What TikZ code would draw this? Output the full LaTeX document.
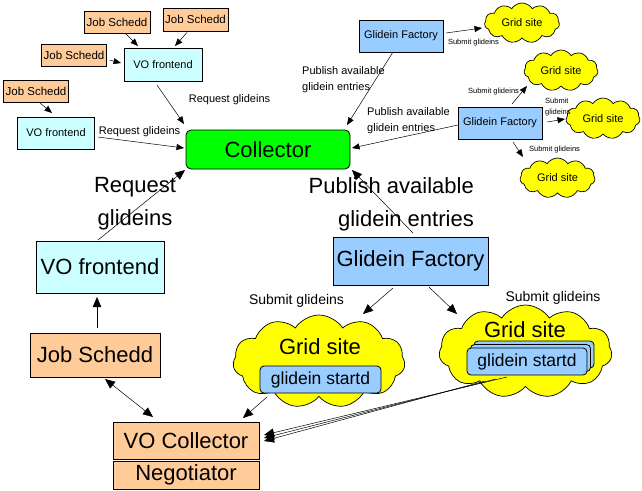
\documentclass[tikz,border=0pt]{standalone}
\usepackage{fontspec}
\setmainfont{Liberation Sans}
\usetikzlibrary{arrows.meta,shapes.symbols}
\definecolor{jsorange}{HTML}{FFCC99}
\definecolor{vocyan}{HTML}{CCFFFF}
\definecolor{colgreen}{HTML}{00FF00}
\definecolor{gfblue}{HTML}{99CCFF}
\definecolor{gsyellow}{HTML}{FFFF00}
\newcommand\fsz[2]{\fontsize{#1}{#2}\selectfont}
\begin{document}
\begin{tikzpicture}[x=1pt,y=-1pt,
  box/.style={draw, line width=0.8pt, inner sep=0pt, outer sep=0pt},
  jsbox/.style={box, fill=jsorange},
  vobox/.style={box, fill=vocyan},
  gfbox/.style={box, fill=gfblue},
  startdbox/.style={box, fill=gfblue, rounded corners=4pt, minimum width=121pt, minimum height=27pt, font=\fsz{17.5}{20}},
  cloudsh/.style={cloud, cloud puffs=11, cloud puff arc=115, draw, line width=0.7pt, fill=gsyellow, inner sep=0pt, outer sep=0pt},
  smalltxt/.style={font=\fsz{11}{16}, inner sep=0pt},
  tinytxt/.style={font=\fsz{7.5}{11}, inner sep=0pt},
  bigtxt/.style={font=\fsz{22}{33}, inner sep=0pt},
  medtxt/.style={font=\fsz{14}{17}, inner sep=0pt},
  conn/.style={line width=0.5pt},
  sarr/.style={conn, -{Triangle[length=7.5pt,width=6pt]}},
  barr/.style={conn, -{Triangle[length=10pt,width=8.5pt]}},
  bdarr/.style={conn, {Triangle[length=10pt,width=8.5pt]}-{Triangle[length=10pt,width=8.5pt]}},
]
\useasboundingbox (0,0) rectangle (642,490);

% ---------- top-left small part ----------
\node[jsbox, minimum width=66pt, minimum height=22pt, font=\fsz{11.5}{14}] (js1) at (117,22) {Job Schedd};
\node[jsbox, minimum width=65pt, minimum height=23pt, font=\fsz{11.5}{14}] (js2) at (195.5,19.5) {Job Schedd};
\node[jsbox, minimum width=65pt, minimum height=22pt, font=\fsz{11.5}{14}] (js3) at (74,55.5) {Job Schedd};
\node[jsbox, minimum width=65pt, minimum height=22pt, font=\fsz{11.5}{14}] (js4) at (36,91) {Job Schedd};
\node[vobox, minimum width=78pt, minimum height=33pt, font=\fsz{11}{14}] (vof1) at (163,64.5) {VO frontend};
\node[vobox, minimum width=77pt, minimum height=32pt, font=\fsz{11}{14}] (vof2) at (56,133) {VO frontend};

\node[box, fill=colgreen, rounded corners=5pt, minimum width=164pt, minimum height=39pt, font=\fsz{22}{26}] (coll) at (268,149.5) {Collector};

\node[smalltxt] (rq1) at (229.5,100) {Request glideins};
\node[smalltxt] (rq2) at (139.5,132) {Request glideins};

% ---------- top-right small part ----------
\node[gfbox, minimum width=84pt, minimum height=32pt, font=\fsz{11}{14}] (gf1) at (401,36) {Glidein Factory};
\node[gfbox, minimum width=84pt, minimum height=32pt, font=\fsz{11}{14}] (gf2) at (500,123) {Glidein Factory};

\node[cloudsh, aspect=1.9, minimum width=75pt, minimum height=40pt, font=\fsz{11}{14}] (gs1) at (522,23) {Grid site};
\node[cloudsh, aspect=1.9, minimum width=74pt, minimum height=41pt, font=\fsz{11}{14}] (gs2) at (561,70.5) {Grid site};
\node[cloudsh, aspect=1.9, minimum width=74pt, minimum height=41pt, font=\fsz{11}{14}] (gs3) at (603,118.5) {Grid site};
\node[cloudsh, aspect=1.9, minimum width=75pt, minimum height=40pt, font=\fsz{11}{14}] (gs4) at (557.5,178) {Grid site};

\node[smalltxt, align=left, anchor=west] (pub1) at (302,80) {Publish available\\glidein entries};
\node[smalltxt, align=left, anchor=west] (pub2) at (367,121) {Publish available\\glidein entries};

\node[tinytxt] (sg1) at (473.5,42.5) {Submit glideins};
\node[tinytxt] (sg2) at (493.5,92) {Submit glideins};
\node[tinytxt, align=left, anchor=west] (sg3) at (545,107.5) {Submit\\glideins};
\node[tinytxt] (sg4) at (554.5,150) {Submit glideins};

% ---------- bottom big part ----------
\node[bigtxt, align=center] (rqB) at (135,204) {Request\\glideins};
\node[vobox, minimum width=128pt, minimum height=52pt, font=\fsz{22}{26}] (vofB) at (100,267) {VO frontend};
\node[jsbox, minimum width=130pt, minimum height=44pt, font=\fsz{22}{26}] (jsB) at (95,355) {Job Schedd};
\node[jsbox, minimum width=146pt, minimum height=37pt, font=\fsz{22}{26}] (vocol) at (186,440.5) {VO Collector};
\node[jsbox, minimum width=146pt, minimum height=28pt, font=\fsz{22}{26}] (neg) at (186,475) {Negotiator};

\node[bigtxt, align=right, anchor=east] (pubB) at (474,204) {Publish available\\glidein entries};
\node[gfbox, minimum width=155pt, minimum height=48pt, font=\fsz{22}{26}] (gfB) at (410.5,261) {Glidein Factory};

\node[medtxt] (sgL) at (296.5,301) {Submit glideins};
\node[medtxt] (sgR) at (553,298) {Submit glideins};

\node[cloudsh, aspect=1.85, minimum width=172pt, minimum height=93pt] (gsL) at (319,361.5) {};
\node[cloudsh, aspect=1.85, minimum width=173pt, minimum height=93pt] (gsR) at (525.5,351.5) {};
\node[bigtxt] (gsLt) at (320,347) {Grid site};
\node[bigtxt] (gsRt) at (525,330) {Grid site};

\node[startdbox] (stL) at (320.5,379.5) {glidein startd};
\node[startdbox, minimum width=120pt] (stR3) at (534,354.5) {};
\node[startdbox, minimum width=120pt] (stR2) at (530.5,358) {};
\node[startdbox, minimum width=120pt] (stR) at (527,361.5) {glidein startd};

% ---------- connectors ----------
\draw[sarr] ([xshift=9pt,yshift=-1pt]js1.south) -- ([xshift=-25pt,yshift=2pt]vof1.north);
\draw[sarr] ([xshift=-8.5pt,yshift=-1.5pt]js2.south) -- ([xshift=12pt,yshift=2pt]vof1.north);
\draw[sarr] ([xshift=3pt,yshift=-4.5pt]js3.east) -- ([xshift=-3pt,yshift=1.5pt]vof1.west);
\draw[sarr] ([xshift=4pt,yshift=-1pt]js4.south) -- ([xshift=-4pt,yshift=4pt]vof2.north);
\draw[sarr] ([xshift=-6pt,yshift=-4pt]vof1.south) -- ([xshift=-2pt,yshift=6pt]coll.north west);
\draw[sarr] ([xshift=3.5pt,yshift=-4pt]vof2.east) -- ([xshift=-2pt,yshift=1.5pt]coll.west);
\draw[sarr] ([xshift=-8pt]gf1.south) -- ([xshift=-3pt,yshift=5pt]coll.north east);
\draw[sarr] ([yshift=-2pt]gf2.west) -- ([xshift=2pt,yshift=1.5pt]coll.east);
\draw[sarr] ([xshift=3pt,yshift=3pt]gf1.east) -- ([xshift=-40pt,yshift=-5pt]gs1.center);
\draw[sarr] ([xshift=12pt,yshift=3pt]gf2.north) -- ([xshift=-34pt,yshift=-15.5pt]gs2.center);
\draw[sarr] ([xshift=5pt,yshift=1pt]gf2.east) -- ([xshift=-38pt,yshift=-0.5pt]gs3.center);
\draw[sarr] ([xshift=13pt,yshift=-3pt]gf2.south) -- ([xshift=-34.5pt,yshift=21pt]gs4.center);

\draw[barr] ([xshift=-2pt,yshift=1pt]vofB.north) -- ([xshift=-1pt,yshift=-1pt]coll.south west);
\draw[barr] ([xshift=2pt,yshift=5pt]jsB.north) -- ([xshift=-3pt,yshift=-4pt]vofB.south);
\draw[bdarr] ([xshift=10pt,yshift=-2pt]jsB.south) -- ([xshift=-33pt,yshift=5pt]vocol.north);
\draw[barr] ([xshift=2.5pt,yshift=4pt]gfB.north) -- ([xshift=2pt,yshift=-1pt]coll.south east);
\draw[barr] ([xshift=-17.5pt,yshift=-3pt]gfB.south) -- ([xshift=44pt,yshift=47.5pt]gsL.center);
\draw[barr] ([xshift=18.5pt,yshift=-2pt]gfB.south) -- ([xshift=-68.5pt,yshift=37.5pt]gsR.center);
\draw[barr] ([xshift=7pt,yshift=-4pt]stL.south west) -- ([xshift=-16pt,yshift=4pt]vocol.north east);
\draw[barr] ([xshift=-20pt,yshift=-2pt]stR.south) -- ([xshift=5pt,yshift=5.5pt]vocol.east);
\draw[barr] ([xshift=-31pt,yshift=-4pt]stR.south) -- ([xshift=5pt,yshift=2.5pt]vocol.east);
\draw[barr] ([xshift=-42pt,yshift=-6pt]stR.south) -- ([xshift=5pt,yshift=-0.5pt]vocol.east);
\end{tikzpicture}
\end{document}
